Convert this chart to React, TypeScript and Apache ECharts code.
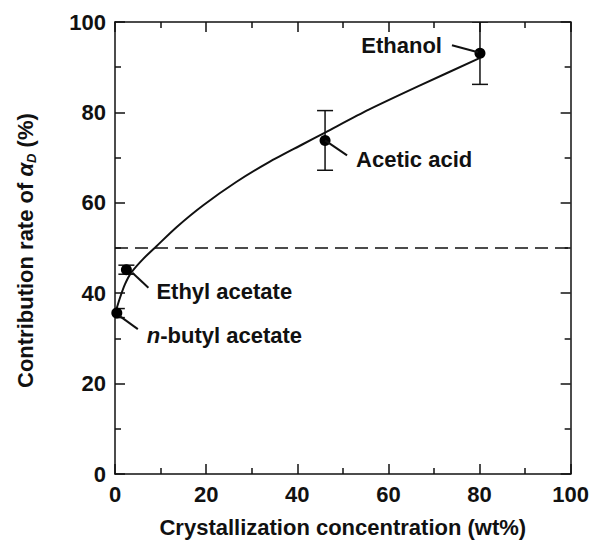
import React, { useEffect, useRef } from 'react';
import * as echarts from 'echarts';

const FONT = '"Liberation Sans", Arial, Helvetica, sans-serif';
const INK = '#111';

// Solvent measurements: crystallization concentration (wt%) vs contribution rate (%)
const solvents = ['n-butyl acetate', 'Ethyl acetate', 'Acetic acid', 'Ethanol'];
const concentration = [0.4, 2.5, 46.1, 80.1];
const contribution = [35.6, 45.2, 73.8, 93.1];
const errorHalfWidth = [1.0, 1.0, 6.6, 6.9];

// Fitted trend curve
const fitConcentration = [0.2, 1.1, 2.2, 3.6, 6.2, 9.1, 13.5, 19.3, 26.6, 33.8, 41.1, 46.2, 55.7, 66.6, 80.0];
const fitContribution = [36.1, 39.0, 42.0, 44.6, 47.6, 50.4, 54.6, 59.4, 64.6, 69.0, 72.9, 75.6, 80.6, 85.8, 92.0];

// Reference level
const threshold = 50;

// Axis ranges
const axisMin = 0;
const axisMax = 100;
const majorStep = 20;

const xTitle = 'Crystallization concentration (wt%)';
const yTitleMain = 'Contribution rate of ';
const yTitleSymbol = 'α';
const yTitleSub = 'D';
const yTitleUnit = ' (%)';

// Pixel offsets (relative to each marker) for leader lines and labels
const annotationLayout = [
  { leader: [3, 3, 21, 16], label: [30, 22], align: 'left' },
  { leader: [6, 3, 22, 18], label: [30, 22], align: 'left' },
  { leader: [0, 0, 22, 15], label: [31, 19], align: 'left' },
  { leader: [-28, -8, -2, -1], label: [-38, -8], align: 'right' },
];

function measure(text: string, font: string): number {
  const ctx = document.createElement('canvas').getContext('2d');
  if (!ctx) return text.length * 10;
  ctx.font = font;
  return ctx.measureText(text).width;
}

function axisCommon(position: 'bottom' | 'top' | 'left' | 'right', showLabel: boolean) {
  return {
    type: 'value' as const,
    position,
    min: axisMin,
    max: axisMax,
    interval: majorStep,
    axisLine: { show: true, onZero: false, lineStyle: { color: INK, width: 1.5 } },
    axisTick: { show: true, inside: true, length: 10, lineStyle: { color: INK, width: 1.5 } },
    minorTick: { show: true, splitNumber: 2, length: 6, lineStyle: { color: INK, width: 1.5 } },
    splitLine: { show: false },
    minorSplitLine: { show: false },
    axisLabel: {
      show: showLabel,
      color: INK,
      fontFamily: FONT,
      fontWeight: 'bold' as const,
      fontSize: 22,
      margin: 9,
    },
  };
}

export default function App() {
  const ref = useRef<HTMLDivElement>(null);

  useEffect(() => {
    document.body.style.margin = '0';
    if (!ref.current) return;
    const chart = echarts.init(ref.current, null, { renderer: 'svg' });

    const points = concentration.map((x, i) => [x, contribution[i]]);
    const bars = concentration.map((x, i) => [
      x,
      contribution[i] - errorHalfWidth[i],
      contribution[i] + errorHalfWidth[i],
    ]);
    const fit = fitConcentration.map((x, i) => [x, fitContribution[i]]);

    chart.setOption({
      animation: false,
      backgroundColor: '#fff',
      grid: { left: 115, right: 19, top: 22, bottom: 65, containLabel: false },
      xAxis: [
        {
          ...axisCommon('bottom', true),
          name: xTitle,
          nameLocation: 'middle',
          nameGap: 42,
          nameTextStyle: { color: INK, fontFamily: FONT, fontWeight: 'bold', fontSize: 22 },
        },
        axisCommon('top', false),
      ],
      yAxis: [axisCommon('left', true), axisCommon('right', false)],
      series: [
        {
          type: 'line',
          data: fit,
          smooth: 0.25,
          showSymbol: false,
          symbol: 'none',
          lineStyle: { color: INK, width: 2 },
          z: 3,
          markLine: {
            silent: true,
            symbol: ['none', 'none'],
            label: { show: false },
            lineStyle: { color: INK, width: 1.5, type: [13, 7] },
            data: [{ yAxis: threshold }],
          },
        },
        {
          type: 'custom',
          clip: true,
          data: bars,
          z: 4,
          renderItem: (_params: any, api: any) => {
            const x = api.value(0);
            const top = api.coord([x, api.value(2)]);
            const bot = api.coord([x, api.value(1)]);
            const cap = 8;
            const style = { stroke: INK, lineWidth: 1.5 };
            return {
              type: 'group',
              children: [
                { type: 'line', shape: { x1: top[0], y1: top[1], x2: bot[0], y2: bot[1] }, style },
                { type: 'line', shape: { x1: top[0] - cap, y1: top[1], x2: top[0] + cap, y2: top[1] }, style },
                { type: 'line', shape: { x1: bot[0] - cap, y1: bot[1], x2: bot[0] + cap, y2: bot[1] }, style },
              ],
            };
          },
        },
        {
          type: 'scatter',
          data: points,
          symbol: 'circle',
          symbolSize: 11,
          itemStyle: { color: '#000', opacity: 1 },
          z: 5,
        },
      ],
    });

    // Leader lines and solvent labels, anchored to each marker
    const graphics: any[] = [];
    solvents.forEach((name, i) => {
      const p = chart.convertToPixel({ xAxisIndex: 0, yAxisIndex: 0 }, [concentration[i], contribution[i]]) as number[];
      const lay = annotationLayout[i];
      graphics.push({
        type: 'line',
        shape: {
          x1: p[0] + lay.leader[0],
          y1: p[1] + lay.leader[1],
          x2: p[0] + lay.leader[2],
          y2: p[1] + lay.leader[3],
        },
        style: { stroke: INK, lineWidth: 2 },
        z: 10,
      });
      const text = name.startsWith('n-') ? `{i|n}{b|${name.slice(1)}}` : `{b|${name}}`;
      graphics.push({
        type: 'text',
        x: p[0] + lay.label[0],
        y: p[1] + lay.label[1],
        z: 10,
        style: {
          text,
          align: lay.align,
          verticalAlign: 'middle',
          rich: {
            b: { fontFamily: FONT, fontWeight: 'bold', fontSize: 22, fill: INK },
            i: { fontFamily: FONT, fontWeight: 'bold', fontStyle: 'italic', fontSize: 22, fill: INK },
          },
        },
      });
    });

    // Rotated y-axis title with italic symbol and subscript
    const mainFont = `bold 22px ${FONT}`;
    const symFont = `italic bold 22px ${FONT}`;
    const subFont = `italic bold 13px ${FONT}`;
    const w1 = measure(yTitleMain, mainFont);
    const w2 = measure(yTitleSymbol, symFont);
    const w3 = measure(yTitleSub, subFont);
    const base = { verticalAlign: 'middle', align: 'left', fill: INK };
    graphics.push({
      type: 'group',
      x: 25,
      y: 388,
      rotation: Math.PI / 2,
      z: 10,
      children: [
        { type: 'text', x: 0, y: 0, style: { ...base, text: yTitleMain, font: mainFont } },
        { type: 'text', x: w1, y: 0, style: { ...base, text: yTitleSymbol, font: symFont } },
        { type: 'text', x: w1 + w2, y: 6, style: { ...base, text: yTitleSub, font: subFont } },
        { type: 'text', x: w1 + w2 + w3, y: 0, style: { ...base, text: yTitleUnit, font: mainFont } },
      ],
    });

    chart.setOption({ graphic: graphics });

    return () => chart.dispose();
  }, []);

  return (
    <div
      ref={ref}
      style={{ position: 'fixed', left: 0, top: 0, width: 592, height: 543 }}
    />
  );
}
